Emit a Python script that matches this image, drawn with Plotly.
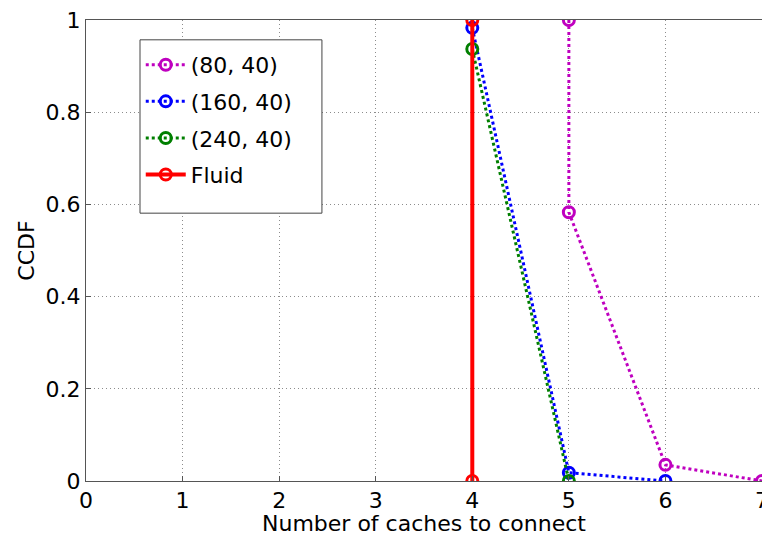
import plotly.graph_objects as go

# CCDF of number of caches a request connects to
x_80 = [5, 5, 6, 7]
y_80 = [1.0, 0.583, 0.035, 0.0]

x_160 = [4, 5, 6]
y_160 = [0.983, 0.018, 0.0]

x_240 = [4, 5]
y_240 = [0.937, 0.0]

x_fluid = [4, 4]
y_fluid = [1.0, 0.0]

x_ticks = [0, 1, 2, 3, 4, 5, 6, 7]
y_ticks = [0, 0.2, 0.4, 0.6, 0.8, 1]
y_tick_text = ["0", "0.2", "0.4", "0.6", "0.8", "1"]

FONT = "DejaVu Sans, Arial, sans-serif"
FS = 22

fig = go.Figure()

def dotted(x, y, name, color, group):
    fig.add_trace(go.Scatter(
        x=x, y=y, name=name, mode="lines+markers", legendgroup=group,
        line=dict(color=color, width=3, dash="dot"),
        marker=dict(symbol="circle-open", size=11, color=color, line=dict(width=3, color=color)),
    ))

dotted(x_80, y_80, "(80, 40)", "#BF00BF", "a")
dotted(x_160, y_160, "(160, 40)", "#0000FF", "b")
dotted(x_240, y_240, "(240, 40)", "#007F00", "c")

fig.add_trace(go.Scatter(
    x=x_fluid, y=y_fluid, name="Fluid", mode="lines+markers", legendgroup="d",
    line=dict(color="#FF0000", width=4),
    marker=dict(symbol="circle-open", size=11, color="#FF0000", line=dict(width=3, color="#FF0000")),
))

axis_common = dict(
    showgrid=True, gridcolor="#8c8c8c", griddash="1px,3px", gridwidth=1,
    showline=True, linecolor="#555555", linewidth=1, mirror=True,
    ticks="inside", ticklen=5, tickcolor="#555555",
    zeroline=False, ticklabeloverflow="allow", automargin=False,
    tickfont=dict(family=FONT, size=FS, color="black"),
)

fig.update_xaxes(
    range=[0, 7], tickvals=x_ticks,
    title=dict(text="Number of caches to connect", font=dict(family=FONT, size=FS, color="black"), standoff=0),
    **axis_common,
)
fig.update_yaxes(
    range=[0, 1], tickvals=y_ticks, ticktext=y_tick_text,
    title=dict(text="CCDF", font=dict(family=FONT, size=FS, color="black"), standoff=4),
    **axis_common,
)

# Legend frame: a white box with a dark border behind the legend entries
fig.add_shape(
    type="rect", xref="paper", yref="paper",
    x0=0.0799, x1=0.349, y0=0.581, y1=0.957,
    fillcolor="white", line=dict(color="#444444", width=1), layer="above",
)

fig.update_layout(
    width=762, height=536,
    margin=dict(l=86, r=0, t=20, b=55),
    paper_bgcolor="white", plot_bgcolor="white",
    font=dict(family=FONT, size=FS, color="black"),
    legend=dict(
        x=0.081, y=0.948, xanchor="left", yanchor="top",
        bgcolor="rgba(0,0,0,0)", borderwidth=0,
        font=dict(family=FONT, size=FS, color="black"),
        tracegroupgap=5, itemwidth=40,
    ),
    showlegend=True,
)

fig.write_html("out.html")
